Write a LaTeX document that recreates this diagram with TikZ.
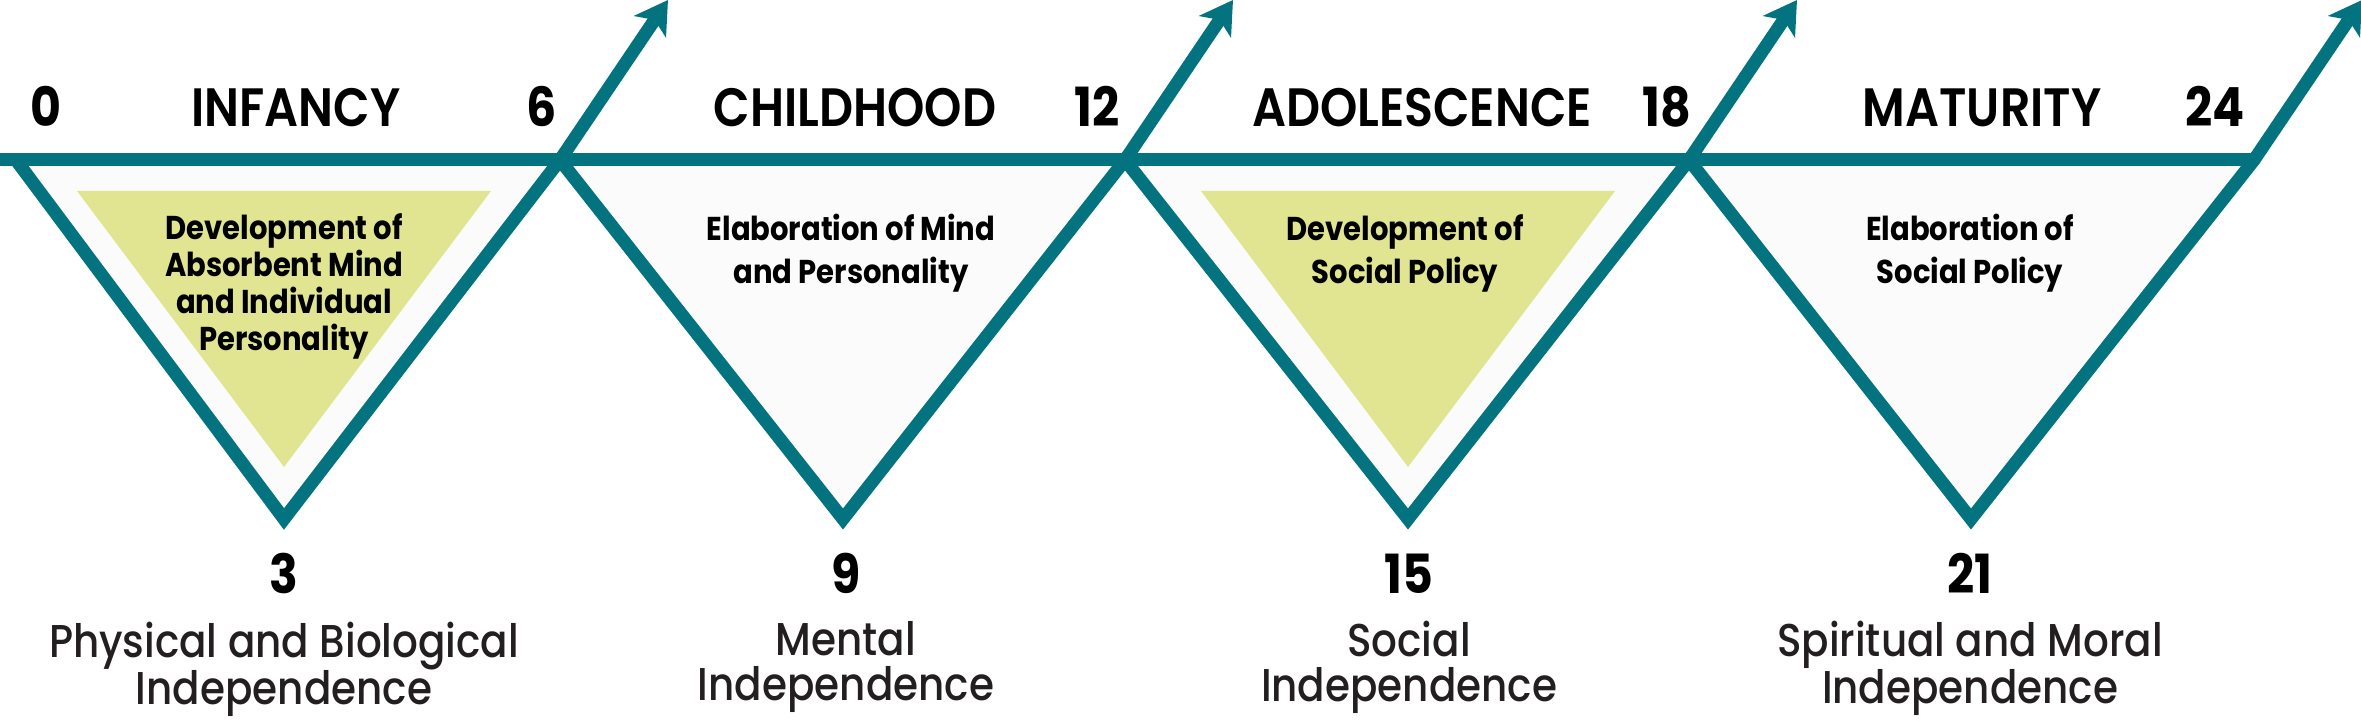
\documentclass[tikz,border=0pt]{standalone}
\usepackage{fontspec}
\setmainfont{Poppins}[FakeStretch=0.88,UprightFont=* Medium,BoldFont=* Bold]
\newfontfamily\stagefont{Poppins}[FakeStretch=0.88,UprightFont=* SemiBold]
\usetikzlibrary{arrows.meta,calc,positioning}

\definecolor{planeteal}{HTML}{03737F}
\definecolor{planelime}{HTML}{E1E592}
\definecolor{planefog}{HTML}{FBFBFB}
\definecolor{planeink}{HTML}{231F20}

\begin{document}
\begin{tikzpicture}[
  x=1pt, y=1pt,
  edge/.style={draw=planeteal, line width=13pt},
  rise/.style={edge, -{Stealth[length=32pt,width=38pt,inset=8pt]}},
  age/.style={font=\fontsize{54}{60}\selectfont\bfseries, inner sep=0pt, anchor=base},
  stage/.style={font=\fontsize{54}{60}\stagefont, inner sep=0pt, anchor=base},
  focus/.style={font=\fontsize{33}{37}\selectfont\bfseries, align=center, inner sep=0pt},
  indep/.style={font=\fontsize{46}{45}\selectfont, text=planeink, align=center, inner sep=0pt},
]
\useasboundingbox (0,0) rectangle (2361,721);

% ---- plane corners and apexes ----
\coordinate (b0) at (0,561);
\coordinate (c0) at (16,561);
\coordinate (c1) at (560,561);
\coordinate (c2) at (1125,561);
\coordinate (c3) at (1689,561);
\coordinate (c4) at (2254,561);
\coordinate (a1) at (284,202);
\coordinate (a2) at (843,202);
\coordinate (a3) at (1408,202);
\coordinate (a4) at (1971,202);
\coordinate (t1) at ($(c1)+(108,160)$);
\coordinate (t2) at ($(c2)+(108,160)$);
\coordinate (t3) at ($(c3)+(108,160)$);
\coordinate (t4) at ($(c4)+(108,160)$);

% ---- triangle fills ----
\fill[planefog] (c0) -- (a1) -- (c1) -- cycle;
\fill[planefog] (c1) -- (a2) -- (c2) -- cycle;
\fill[planefog] (c2) -- (a3) -- (c3) -- cycle;
\fill[planefog] (c3) -- (a4) -- (c4) -- cycle;
\fill[planelime] ($(a1)+(-207,328)$) -- ($(a1)+(0,52)$) -- ($(a1)+(207,328)$) -- cycle;
\fill[planelime] ($(a3)+(-207,328)$) -- ($(a3)+(0,52)$) -- ($(a3)+(207,328)$) -- cycle;

% ---- planes and rising arrows ----
\draw[rise] (c0) -- (a1) -- (c1) -- (t1);
\draw[rise] (c1) -- (a2) -- (c2) -- (t2);
\draw[rise] (c2) -- (a3) -- (c3) -- (t3);
\draw[rise] (c3) -- (a4) -- (c4) -- (t4);
\draw[edge] (b0) -- (c4);

% ---- ages and stages on top ----
\node[age]   (z0)  at (46,594)   {0};
\node[stage] (inf) at (296,594)  {INFANCY};
\node[age]   (z6)  at (542,594)  {6};
\node[stage] (chi) at (855,594)  {CHILDHOOD};
\node[age]   (z12) at (1097,594) {12};
\node[stage] (ado) at (1422,594) {ADOLESCENCE};
\node[age]   (z18) at (1667,594) {18};
\node[stage] (mat) at (1982,594) {MATURITY};
\node[age]   (z24) at (2215,594) {24};

% ---- inside the planes ----
\node[focus] (f1) at (284,435)
  {Development of\\Absorbent Mind\\and Individual\\Personality};
\node[focus, font=\fontsize{33}{43}\selectfont\bfseries] (f2) at (851,468)
  {Elaboration of Mind\\and Personality};
\node[focus, font=\fontsize{33}{43}\selectfont\bfseries] (f3) at (1405,468)
  {Development of\\Social Policy};
\node[focus, font=\fontsize{33}{43}\selectfont\bfseries] (f4) at (1970,468)
  {Elaboration of\\Social Policy};

% ---- peaks and independence ----
\node[age] (n3)  at (284,128)  {3};
\node[age] (n9)  at (846,128)  {9};
\node[age] (n15) at (1409,128) {15};
\node[age] (n21) at (1970,128) {21};
\node[indep, below=28pt of n3]  (l3)  {Physical and Biological\\Independence};
\node[indep, below=28pt of n9]  (l9)  {Mental\\Independence};
\node[indep, below=28pt of n15] (l15) {Social\\Independence};
\node[indep, below=28pt of n21] (l21) {Spiritual and Moral\\Independence};

\end{tikzpicture}
\end{document}
